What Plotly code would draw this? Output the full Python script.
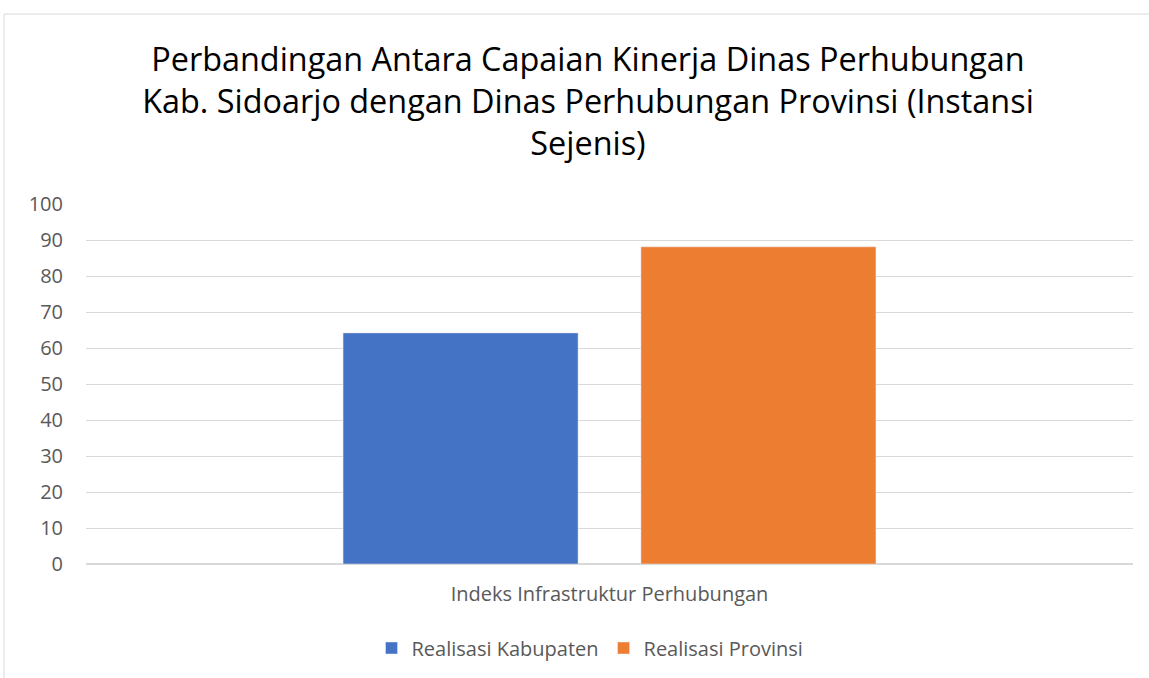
import plotly.graph_objects as go

# data
category = ["Indeks Infrastruktur Perhubungan"]
kabupaten = [64.2]
provinsi = [88.1]
series_names = ["Realisasi Kabupaten", "Realisasi Provinsi"]
tick_vals = list(range(0, 101, 10))

FONT = "Open Sans"
GREY = "#595959"

fig = go.Figure()
fig.add_trace(go.Bar(x=category, y=kabupaten, name=series_names[0],
                     marker_color="#4472C4"))
fig.add_trace(go.Bar(x=category, y=provinsi, name=series_names[1],
                     marker_color="#ED7D31"))

fig.update_layout(
    width=1149, height=678,
    margin=dict(l=86, r=16, t=204, b=114, autoexpand=False),
    paper_bgcolor="white", plot_bgcolor="white",
    barmode="group", bargap=0.431, bargroupgap=0.211,
    font=dict(family=FONT, color=GREY, size=20),
    title=dict(
        text="Perbandingan Antara Capaian Kinerja Dinas Perhubungan<br>"
             "Kab. Sidoarjo dengan Dinas Perhubungan Provinsi (Instansi<br>Sejenis)",
        x=588 / 1149, xref="container", xanchor="center",
        y=1 - 71 / 678, yref="container", yanchor="middle",
        font=dict(family=FONT, size=32.4, color="black"),
    ),
    legend=dict(orientation="h", x=590 / 1149, xref="container", xanchor="center",
                y=1 - 648 / 678, yref="container", yanchor="middle",
                font=dict(size=20, color=GREY), itemwidth=30),
    showlegend=True,
)
fig.update_yaxes(range=[0, 100], tickvals=tick_vals, showgrid=True,
                 gridcolor="#d9d9d9", gridwidth=1, zeroline=True,
                 zerolinecolor="#d9d9d9", ticklabelstandoff=22,
                 tickfont=dict(size=20, color=GREY))
fig.update_xaxes(showline=False, tickfont=dict(size=20, color=GREY),
                 ticklabelstandoff=16)

# chart-area border
fig.add_shape(type="rect", xref="paper", yref="paper",
              x0=(4 - 86) / 1047, x1=1.1, y0=-0.5, y1=(564 - 14) / 360,
              line=dict(color="#d9d9d9", width=1), layer="below")

fig.write_html("out.html", config={"displayModeBar": False},
               post_script="document.body.style.margin='0';")
